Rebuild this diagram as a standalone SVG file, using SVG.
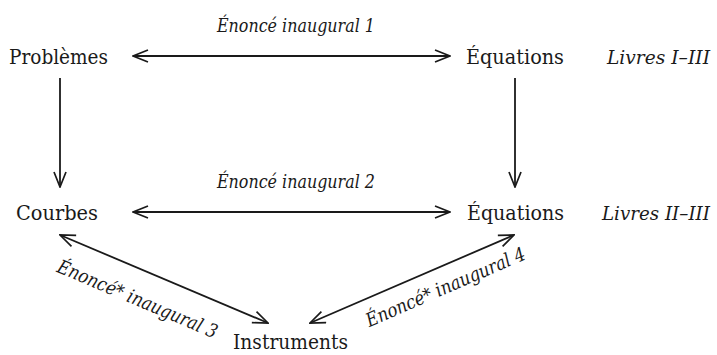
<svg xmlns="http://www.w3.org/2000/svg" width="717" height="355" viewBox="0 0 717 355">
<style>
text{fill:#1a1a1a;font-family:'DejaVu Serif','Liberation Serif',serif}
.n{font-size:20.5px}
.i{font-size:19px;font-style:italic}
.c{stroke:#1a1a1a;stroke-width:1.8;fill:none;marker-start:url(#ah);marker-end:url(#ah)}
.s{stroke:#1a1a1a;stroke-width:1.8;fill:none;marker-end:url(#ah)}
</style>
<defs>
<marker id="ah" viewBox="0 0 17 14" refX="16" refY="7" markerWidth="17" markerHeight="14" markerUnits="userSpaceOnUse" orient="auto-start-reverse">
<path d="M1,1 L16,7 L1,13" fill="none" stroke="#1a1a1a" stroke-width="1.7"/>
</marker>
</defs>
<g id="connectors">
<line class="c" x1="133" y1="56" x2="450" y2="56"/>
<line class="c" x1="133" y1="212" x2="450" y2="212"/>
<line class="s" x1="60" y1="78" x2="60" y2="187"/>
<line class="s" x1="515" y1="78" x2="515" y2="187"/>
<line class="c" x1="60" y1="235" x2="268" y2="323"/>
<line class="c" x1="310" y1="323" x2="514" y2="235"/>
<text class="i" x="296" y="32" text-anchor="middle" textLength="158" lengthAdjust="spacingAndGlyphs">Énoncé inaugural 1</text>
<text class="i" x="296" y="188" text-anchor="middle" textLength="158" lengthAdjust="spacingAndGlyphs">Énoncé inaugural 2</text>
<text class="i" text-anchor="middle" transform="translate(135,305) rotate(23)" textLength="172" lengthAdjust="spacingAndGlyphs">Énoncé* inaugural 3</text>
<text class="i" text-anchor="middle" transform="translate(448,293) rotate(-23.5)" textLength="172" lengthAdjust="spacingAndGlyphs">Énoncé* inaugural 4</text>
</g>
<g id="problemes"><text class="n" x="9" y="64" textLength="99" lengthAdjust="spacingAndGlyphs">Problèmes</text></g>
<g id="equations1"><text class="n" x="466" y="64" textLength="98" lengthAdjust="spacingAndGlyphs">Équations</text></g>
<g id="livres1"><text class="i" x="607" y="64" textLength="103" lengthAdjust="spacingAndGlyphs">Livres I–III</text></g>
<g id="courbes"><text class="n" x="16" y="220" textLength="82" lengthAdjust="spacingAndGlyphs">Courbes</text></g>
<g id="equations2"><text class="n" x="467" y="220" textLength="97" lengthAdjust="spacingAndGlyphs">Équations</text></g>
<g id="livres2"><text class="i" x="602" y="220" textLength="108" lengthAdjust="spacingAndGlyphs">Livres II–III</text></g>
<g id="instruments"><text class="n" x="233" y="349" textLength="115" lengthAdjust="spacingAndGlyphs">Instruments</text></g>
</svg>
